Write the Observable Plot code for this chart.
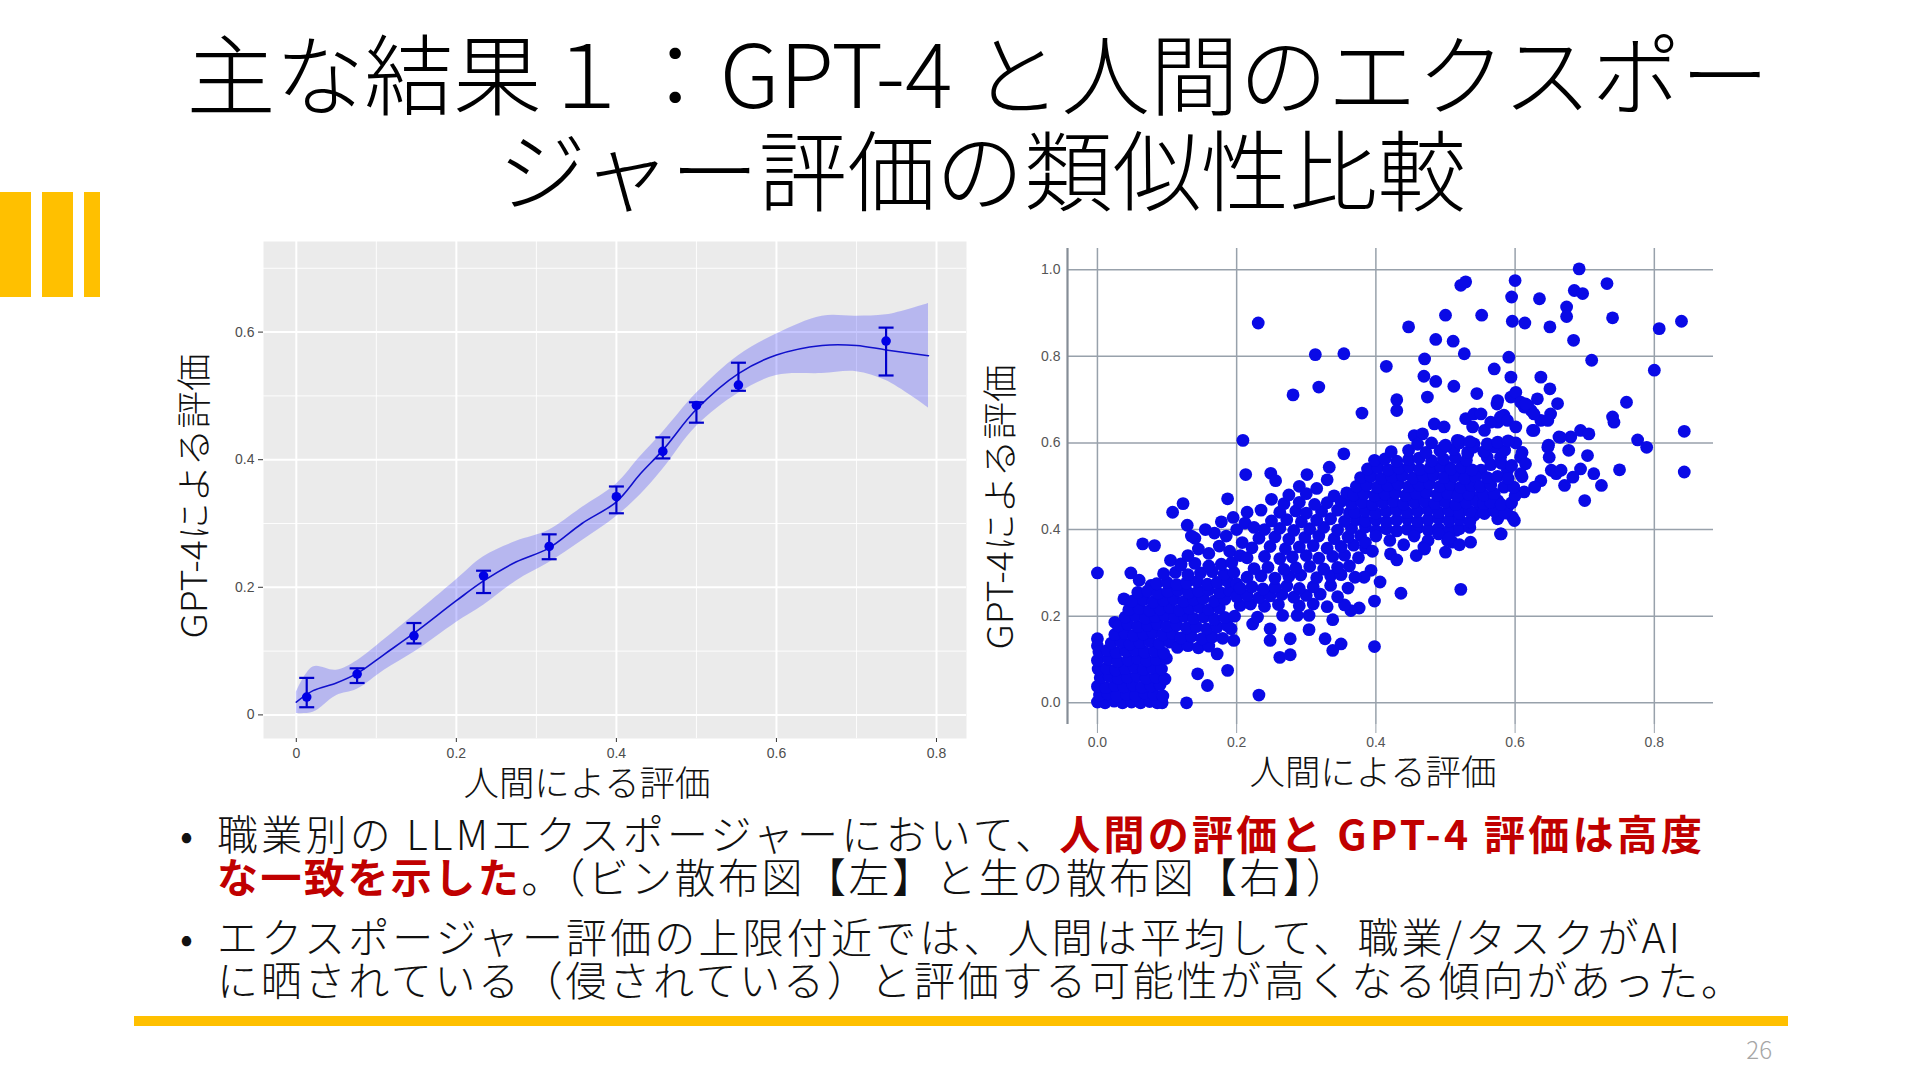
<!DOCTYPE html>
<html lang="ja">
<head>
<meta charset="utf-8">
<script src="https://cdn.jsdelivr.net/npm/d3@7"></script>
<script src="https://cdn.jsdelivr.net/npm/@observablehq/plot@0.6"></script>
<style>
  html, body { margin: 0; padding: 0; background: #fff; }
  #page { position: relative; width: 1920px; height: 1080px; overflow: hidden; background: #fff; }
  #slide { position: absolute; left: 0; top: 0; }
  .chart { position: absolute; }
  #left { left: 150px; top: 230px; }
  #right { left: 1000px; top: 236px; }
</style>
</head>
<body>
<div id="page">
  <div id="slide"></div>
  <div id="left" class="chart"></div>
  <div id="right" class="chart"></div>
</div>
<script>
// ---------------- data ----------------
const titleLines = ["主な結果１：GPT-4 と人間のエクスポー", "ジャー評価の類似性比較"];
const bullet1 = [
  [{t: "職業別の LLMエクスポージャーにおいて、", red: false}, {t: "人間の評価と GPT-4 評価は高度", red: true}],
  [{t: "な一致を示した", red: true}, {t: "。（ビン散布図【左】と生の散布図【右】）", red: false}]
];
const bullet2 = [
  [{t: "エクスポージャー評価の上限付近では、人間は平均して、職業/タスクがAI", red: false}],
  [{t: "に晒されている（侵されている）と評価する可能性が高くなる傾向があった。", red: false}]
];
const pageNumber = "26";
const xLabel = "人間による評価";
const yLabel = "GPT-4による評価";

// left chart: binned scatter with smooth fit
const leftXTicks = [0, 0.2, 0.4, 0.6, 0.8];
const leftXMinor = [0.1, 0.3, 0.5, 0.7];
const leftYTicks = [0, 0.2, 0.4, 0.6];
const leftYMinor = [0.1, 0.3, 0.5, 0.7];
const binX    = [0.013, 0.076, 0.147, 0.234, 0.316, 0.400, 0.458, 0.500, 0.5525, 0.737];
const binMean = [0.028, 0.064, 0.124, 0.218, 0.264, 0.342, 0.413, 0.485, 0.517, 0.586];
const binLo   = [0.012, 0.050, 0.112, 0.191, 0.244, 0.316, 0.402, 0.458, 0.508, 0.532];
const binHi   = [0.058, 0.073, 0.144, 0.226, 0.283, 0.358, 0.435, 0.490, 0.552, 0.607];
const fitX     = [0.000, 0.021, 0.050, 0.076, 0.110, 0.147, 0.200, 0.234, 0.275, 0.315, 0.357, 0.400, 0.430, 0.458, 0.500, 0.5525, 0.600, 0.657, 0.700, 0.737, 0.790];
const fitY     = [0.020, 0.038, 0.050, 0.065, 0.095, 0.128, 0.179, 0.210, 0.240, 0.261, 0.300, 0.334, 0.378, 0.415, 0.479, 0.535, 0.564, 0.579, 0.579, 0.572, 0.563];
const fitUpper = [0.035, 0.075, 0.070, 0.085, 0.118, 0.156, 0.212, 0.248, 0.272, 0.289, 0.325, 0.362, 0.405, 0.443, 0.504, 0.563, 0.597, 0.625, 0.625, 0.627, 0.645];
const fitLower = [0.002, 0.004, 0.030, 0.040, 0.070, 0.098, 0.145, 0.172, 0.210, 0.238, 0.273, 0.311, 0.345, 0.385, 0.452, 0.504, 0.532, 0.535, 0.538, 0.524, 0.481];

// right chart: raw scatter [human, gpt4]
const rightXTicks = [0, 0.2, 0.4, 0.6, 0.8];
const rightYTicks = [0, 0.2, 0.4, 0.6, 0.8, 1.0];
const rawPoints = [
[0.000,0.300],[0.231,0.877],[0.209,0.606],[0.213,0.527],[0.313,0.804],[0.354,0.806],[0.318,0.729],[0.281,0.711],[0.380,0.669],[0.415,0.777],[0.430,0.700],[0.430,0.675],[0.447,0.868],[0.470,0.794],[0.469,0.754],[0.486,0.742],[0.474,0.706],[0.486,0.839],[0.500,0.895],[0.511,0.835],[0.512,0.731],[0.527,0.806],[0.522,0.964],[0.529,0.972],[0.552,0.895],[0.545,0.714],[0.570,0.771],[0.484,0.644],[0.498,0.637],[0.455,0.617],[0.467,0.621],[0.529,0.656],[0.541,0.667],[0.556,0.629],[0.575,0.648],[0.584,0.664],[0.575,0.698],[0.522,0.262],[0.436,0.253],[0.398,0.130],[0.232,0.018],[0.398,0.235],[0.406,0.279],[0.393,0.306],[0.383,0.290],[0.421,0.344],[0.458,0.340],[0.469,0.360],[0.500,0.348],[0.510,0.371],[0.536,0.371],[0.579,0.390],[0.575,0.425],[0.548,0.444],[0.558,0.448],[0.354,0.575],[0.333,0.544],[0.301,0.527],[0.249,0.530],[0.256,0.513],[0.187,0.471],[0.123,0.460],[0.108,0.440],[0.129,0.410],[0.065,0.367],[0.082,0.363],[0.105,0.329],[0.120,0.321],[0.048,0.300],[0.060,0.283],[0.077,0.271],[0.038,0.240],[0.025,0.186],[0.000,0.148],[0.000,0.132],[0.187,0.075],[0.158,0.040],[0.144,0.067],[0.128,0.000],[0.093,0.000],[0.172,0.113],[0.262,0.105],[0.277,0.111],[0.277,0.148],[0.248,0.144],[0.248,0.171],[0.196,0.144],[0.192,0.171],[0.223,0.182],[0.230,0.198],[0.304,0.169],[0.327,0.148],[0.338,0.121],[0.350,0.136],[0.338,0.192],[0.266,0.202],[0.287,0.202],[0.304,0.202],[0.376,0.219],[0.364,0.213],
[0.692,1.002],[0.732,0.968],[0.685,0.952],[0.697,0.945],[0.635,0.933],[0.600,0.975],[0.595,0.937],[0.596,0.881],[0.614,0.877],[0.650,0.868],[0.674,0.914],[0.674,0.892],[0.740,0.889],[0.807,0.864],[0.839,0.881],[0.684,0.837],[0.591,0.798],[0.710,0.791],[0.800,0.768],[0.594,0.752],[0.637,0.752],[0.650,0.725],[0.594,0.706],[0.601,0.717],[0.632,0.702],[0.760,0.694],[0.613,0.683],[0.623,0.675],[0.637,0.652],[0.651,0.667],[0.661,0.691],[0.740,0.660],[0.742,0.648],[0.843,0.627],[0.776,0.607],[0.789,0.590],[0.843,0.533],[0.750,0.538],[0.704,0.571],[0.713,0.529],[0.724,0.502],[0.700,0.467],[0.663,0.614],[0.680,0.614],[0.694,0.629],[0.706,0.621],[0.648,0.595],[0.649,0.567],[0.677,0.583],[0.694,0.540],[0.683,0.521],[0.671,0.502],[0.652,0.537],[0.637,0.513],[0.628,0.498],[0.613,0.487],[0.659,0.529],[0.666,0.537],[0.580,0.390],[0.599,0.421],
[0.565,0.648],[0.579,0.660],[0.589,0.652],[0.601,0.637],[0.539,0.637],[0.551,0.667],[0.608,0.694],[0.618,0.687],[0.627,0.667],[0.625,0.629],[0.601,0.600],[0.608,0.567],[0.615,0.552],[0.608,0.529],[0.589,0.537],[0.579,0.567],[0.570,0.591],[0.560,0.567],[0.551,0.537],[0.584,0.498],[0.575,0.467],[0.589,0.452],[0.596,0.429],[0.556,0.437],[0.541,0.433],[0.522,0.452],[0.508,0.429],[0.515,0.398],[0.503,0.375],[0.532,0.575],[0.522,0.529],[0.536,0.498],[0.546,0.475],[0.513,0.483],[0.503,0.544],[0.498,0.591],[0.517,0.606],[0.541,0.598],[0.574,0.690],[0.615,0.690],[0.647,0.652],[0.627,0.629],[0.665,0.613],[0.647,0.590],
[0.000,0.002],[0.011,0.000],[0.024,0.004],[0.036,0.000],[0.049,0.002],[0.062,0.000],[0.075,0.003],[0.086,0.000],
[0.003,0.018],[0.015,0.021],[0.028,0.016],[0.042,0.020],[0.055,0.017],[0.068,0.022],[0.081,0.019],[0.094,0.016],
[0.000,0.038],[0.012,0.035],[0.025,0.040],[0.038,0.037],[0.051,0.041],[0.064,0.036],[0.077,0.039],[0.090,0.042],
[0.004,0.058],[0.017,0.061],[0.030,0.056],[0.043,0.059],[0.057,0.062],[0.070,0.057],[0.084,0.060],[0.097,0.055],
[0.001,0.078],[0.013,0.080],[0.026,0.076],[0.040,0.079],[0.053,0.082],[0.066,0.077],[0.079,0.081],[0.092,0.078],
[0.000,0.098],[0.016,0.101],[0.029,0.096],[0.044,0.099],[0.058,0.102],[0.071,0.097],[0.085,0.100],[0.099,0.103],
[0.002,0.118],[0.014,0.121],[0.027,0.116],[0.041,0.119],[0.054,0.122],[0.068,0.117],[0.082,0.120],[0.095,0.115],
[0.020,0.138],[0.034,0.141],[0.047,0.136],[0.061,0.139],[0.075,0.142],[0.089,0.137],[0.104,0.140],
[0.025,0.158],[0.039,0.161],[0.052,0.156],[0.066,0.159],[0.080,0.162],[0.094,0.157],[0.108,0.160],
[0.030,0.178],[0.044,0.181],[0.058,0.176],[0.072,0.179],[0.086,0.182],[0.100,0.177],[0.114,0.180],
[0.040,0.198],[0.055,0.201],[0.069,0.196],[0.083,0.199],[0.097,0.202],[0.111,0.197],[0.125,0.200],
[0.115,0.128],[0.130,0.132],[0.145,0.127],[0.160,0.131],
[0.120,0.150],[0.135,0.153],[0.150,0.148],[0.165,0.152],[0.180,0.149],
[0.128,0.173],[0.142,0.176],[0.157,0.171],[0.172,0.175],[0.187,0.178],
[0.138,0.195],[0.153,0.198],[0.168,0.193],[0.183,0.197],[0.197,0.200],
[0.045,0.215],[0.060,0.218],[0.075,0.213],[0.090,0.217],[0.104,0.220],[0.118,0.214],[0.132,0.218],[0.146,0.221],[0.160,0.215],[0.175,0.219],
[0.050,0.235],[0.066,0.238],[0.080,0.233],[0.095,0.237],[0.110,0.240],[0.124,0.234],[0.138,0.238],[0.152,0.241],[0.168,0.235],[0.183,0.239],
[0.058,0.255],[0.072,0.258],[0.087,0.253],[0.101,0.257],[0.116,0.260],[0.131,0.254],[0.145,0.258],[0.160,0.261],[0.176,0.255],[0.190,0.259],
[0.085,0.275],[0.100,0.278],[0.114,0.273],[0.128,0.277],[0.143,0.280],[0.158,0.274],[0.172,0.278],[0.187,0.281],[0.200,0.275],
[0.095,0.298],[0.112,0.301],[0.130,0.296],[0.148,0.300],[0.165,0.303],[0.182,0.297],[0.196,0.301],
[0.120,0.318],[0.140,0.322],[0.160,0.316],[0.178,0.320],[0.193,0.324],
[0.130,0.340],[0.145,0.355],[0.160,0.345],[0.175,0.362],[0.190,0.350],[0.205,0.340],[0.140,0.380],[0.168,0.392],[0.185,0.385],[0.200,0.400],[0.212,0.415],[0.178,0.418],[0.195,0.428],[0.155,0.400],[0.208,0.370],[0.135,0.385],
[0.225,0.405],[0.235,0.445],[0.215,0.440],[0.250,0.470],[0.290,0.500],[0.315,0.495],[0.330,0.515],
[0.205,0.225],[0.220,0.228],[0.240,0.223],[0.260,0.227],[0.290,0.224],[0.310,0.228],[0.330,0.222],[0.355,0.226],
[0.200,0.245],[0.215,0.248],[0.232,0.243],[0.248,0.247],[0.265,0.250],[0.282,0.244],[0.300,0.248],[0.320,0.251],[0.345,0.245],
[0.205,0.265],[0.222,0.268],[0.238,0.263],[0.255,0.267],[0.272,0.270],[0.290,0.264],[0.310,0.268],[0.335,0.271],[0.360,0.265],
[0.215,0.290],[0.235,0.293],[0.255,0.288],[0.275,0.292],[0.292,0.295],[0.315,0.289],[0.335,0.293],[0.350,0.296],[0.370,0.290],
[0.225,0.310],[0.245,0.313],[0.268,0.308],[0.285,0.312],[0.305,0.315],[0.325,0.309],[0.345,0.313],[0.362,0.316],
[0.215,0.335],[0.240,0.338],[0.262,0.333],[0.280,0.337],[0.300,0.340],[0.318,0.334],[0.338,0.338],[0.355,0.341],[0.375,0.335],
[0.222,0.358],[0.248,0.361],[0.270,0.356],[0.290,0.360],[0.310,0.363],[0.330,0.357],[0.350,0.361],[0.368,0.364],[0.385,0.358],
[0.232,0.380],[0.255,0.383],[0.275,0.378],[0.298,0.382],[0.318,0.385],[0.340,0.379],[0.360,0.383],[0.378,0.386],
[0.240,0.400],[0.262,0.403],[0.282,0.398],[0.305,0.402],[0.325,0.405],[0.345,0.399],[0.365,0.403],[0.385,0.406],
[0.250,0.420],[0.272,0.423],[0.293,0.418],[0.315,0.422],[0.335,0.425],[0.355,0.419],[0.372,0.423],
[0.262,0.440],[0.285,0.443],[0.300,0.438],[0.322,0.442],[0.345,0.445],[0.362,0.439],
[0.268,0.460],[0.290,0.463],[0.312,0.458],[0.330,0.462],[0.350,0.465],
[0.275,0.480],[0.300,0.483],[0.340,0.478],[0.358,0.485],
[0.400,0.398],[0.415,0.402],[0.430,0.397],[0.445,0.401],[0.460,0.404],[0.475,0.399],[0.490,0.403],[0.505,0.398],[0.520,0.402],[0.535,0.405],
[0.385,0.420],[0.400,0.423],[0.415,0.418],[0.430,0.422],[0.445,0.425],[0.460,0.419],[0.475,0.423],[0.490,0.426],[0.505,0.420],[0.520,0.424],[0.535,0.418],
[0.370,0.440],[0.385,0.443],[0.400,0.438],[0.415,0.442],[0.430,0.445],[0.445,0.439],[0.460,0.443],[0.475,0.446],[0.490,0.440],[0.505,0.444],[0.520,0.438],[0.535,0.442],
[0.365,0.460],[0.380,0.463],[0.395,0.458],[0.410,0.462],[0.425,0.465],[0.440,0.459],[0.455,0.463],[0.470,0.466],[0.485,0.460],[0.500,0.464],[0.515,0.458],[0.530,0.462],[0.545,0.465],
[0.368,0.480],[0.383,0.483],[0.398,0.478],[0.413,0.482],[0.428,0.485],[0.443,0.479],[0.458,0.483],[0.473,0.486],[0.488,0.480],[0.503,0.484],[0.518,0.478],[0.533,0.482],
[0.372,0.500],[0.387,0.503],[0.402,0.498],[0.417,0.502],[0.432,0.505],[0.447,0.499],[0.462,0.503],[0.477,0.506],[0.492,0.500],[0.507,0.504],[0.522,0.498],[0.537,0.502],
[0.378,0.520],[0.393,0.523],[0.408,0.518],[0.423,0.522],[0.438,0.525],[0.453,0.519],[0.468,0.523],[0.483,0.526],[0.498,0.520],[0.513,0.524],[0.528,0.518],[0.543,0.522],
[0.388,0.540],[0.403,0.543],[0.418,0.538],[0.433,0.542],[0.448,0.545],[0.463,0.539],[0.478,0.543],[0.493,0.546],[0.508,0.540],[0.523,0.544],[0.538,0.538],
[0.398,0.560],[0.413,0.563],[0.430,0.558],[0.447,0.562],[0.462,0.565],[0.480,0.559],[0.497,0.563],[0.514,0.566],[0.530,0.560],
[0.422,0.580],[0.447,0.583],[0.472,0.578],[0.492,0.582],[0.512,0.585],[0.532,0.579],
[0.460,0.597],[0.480,0.600],[0.500,0.595],[0.520,0.605],[0.540,0.590],
[0.385,0.370],[0.400,0.385],[0.420,0.375],[0.440,0.365],[0.455,0.385],[0.475,0.375],[0.490,0.390],[0.505,0.380],[0.520,0.365],[0.395,0.350],[0.430,0.330],[0.470,0.355],
[0.555,0.440],[0.570,0.443],[0.585,0.438],
[0.555,0.460],[0.565,0.463],[0.580,0.458],[0.595,0.462],
[0.555,0.480],[0.570,0.483],[0.600,0.478],
[0.550,0.500],[0.565,0.503],[0.598,0.498],
[0.560,0.520],[0.575,0.523],[0.590,0.518],[0.610,0.522],
[0.565,0.550],[0.580,0.553],[0.595,0.548],
[0.555,0.580],[0.585,0.583],[0.610,0.578],
[0.520,0.600],[0.535,0.603],[0.560,0.598],[0.575,0.602],[0.590,0.605]
];

// ---------------- derived tables ----------------
const bins = binX.map((x, i) => ({x, mean: binMean[i], lo: binLo[i], hi: binHi[i]}));
const fit = fitX.map((x, i) => ({x, y: fitY[i], upper: fitUpper[i], lower: fitLower[i]}));
const scatter = rawPoints.map(([h, g]) => ({human: h, gpt: g}));

// ---------------- slide decoration ----------------
const jpFont = "'Noto Sans CJK JP Light', 'Noto Sans CJK JP DemiLight', 'Noto Sans CJK JP', 'Noto Sans', sans-serif";
const jpBold = "'Noto Sans CJK JP', 'Noto Sans', sans-serif";
const svg = d3.select("#slide").append("svg")
  .attr("width", 1920).attr("height", 1080)
  .attr("font-family", jpFont);

const accent = "#ffc000";
[[0, 31], [42, 73], [84, 100]].forEach(([a, b]) =>
  svg.append("rect").attr("x", a).attr("y", 192).attr("width", b - a).attr("height", 105).attr("fill", accent));
svg.append("rect").attr("x", 134).attr("y", 1016).attr("width", 1654).attr("height", 10).attr("fill", accent);

svg.append("text").attr("x", 978).attr("y", 108).attr("text-anchor", "middle")
  .attr("font-size", 88).attr("font-weight", 300).attr("fill", "#000")
  .attr("textLength", 1583).attr("lengthAdjust", "spacingAndGlyphs").text(titleLines[0]);
svg.append("text").attr("x", 982).attr("y", 204).attr("text-anchor", "middle")
  .attr("font-size", 88).attr("font-weight", 300).attr("fill", "#000")
  .attr("textLength", 968).attr("lengthAdjust", "spacingAndGlyphs").text(titleLines[1]);

function bodyLine(parts, y, len) {
  const t = svg.append("text").attr("x", 217).attr("y", y).attr("font-size", 41)
    .attr("font-weight", 300).attr("fill", "#111").attr("textLength", len).attr("lengthAdjust", "spacing");
  parts.forEach(p => t.append("tspan").text(p.t)
    .attr("fill", p.red ? "#c00000" : "#111")
    .attr("font-family", p.red ? jpBold : jpFont)
    .attr("font-weight", p.red ? 700 : 300));
}
svg.append("text").attr("x", 180).attr("y", 850).attr("font-size", 41).attr("fill", "#111").text("•");
svg.append("text").attr("x", 180).attr("y", 953).attr("font-size", 41).attr("fill", "#111").text("•");
bodyLine(bullet1[0], 850, 1485);
bodyLine(bullet1[1], 893, 1130);
bodyLine(bullet2[0], 953, 1463);
bodyLine(bullet2[1], 996, 1525);

svg.append("text").attr("x", 1772).attr("y", 1059).attr("text-anchor", "end")
  .attr("font-size", 24).attr("font-weight", 300).attr("fill", "#a6a6a6").text(pageNumber);

// axis titles
function yTitle(cx, cy) {
  svg.append("text").attr("transform", `translate(${cx},${cy}) rotate(-90)`)
    .attr("text-anchor", "middle").attr("font-size", 35).attr("font-weight", 300).attr("fill", "#111")
    .attr("textLength", 285).attr("lengthAdjust", "spacingAndGlyphs").text(yLabel);
}
function xTitle(cx, by) {
  svg.append("text").attr("x", cx).attr("y", by).attr("text-anchor", "middle")
    .attr("font-size", 35).attr("font-weight", 300).attr("fill", "#111")
    .attr("textLength", 247).attr("lengthAdjust", "spacingAndGlyphs").text(xLabel);
}
yTitle(207, 496);
yTitle(1013, 507);
xTitle(587, 796);
xTitle(1373, 785);

// ---------------- left chart ----------------
const capSymbol = {
  draw(context, size) {
    const w = Math.sqrt(size / Math.PI);
    context.moveTo(-w, 0);
    context.lineTo(w, 0);
  }
};
const fmtLeft = d => d === 0 ? "0" : d.toFixed(1);
const tickFont = "'Liberation Sans', Arial, sans-serif";

const left = Plot.plot({
  width: 840, height: 560,
  marginLeft: 113, marginRight: 24, marginTop: 11, marginBottom: 52,
  x: {domain: [-0.041, 0.8375]},
  y: {domain: [-0.037, 0.742]},
  style: {background: "transparent", fontFamily: tickFont, fontSize: "14px", color: "#4d4d4d", overflow: "visible"},
  marks: [
    Plot.frame({fill: "#ebebeb", stroke: "none"}),
    Plot.ruleX(leftXMinor, {stroke: "#ffffff", strokeWidth: 0.9}),
    Plot.ruleY(leftYMinor, {stroke: "#ffffff", strokeWidth: 0.9}),
    Plot.ruleX(leftXTicks, {stroke: "#ffffff", strokeWidth: 2}),
    Plot.ruleY(leftYTicks, {stroke: "#ffffff", strokeWidth: 2}),
    Plot.axisX({ticks: leftXTicks, tickFormat: fmtLeft, tickSize: 4, tickPadding: 6, stroke: "#333", label: null, fontSize: 14}),
    Plot.axisY({ticks: leftYTicks, tickFormat: fmtLeft, tickSize: 5, tickPadding: 4, stroke: "#333", label: null, fontSize: 14}),
    Plot.areaY(fit, {x: "x", y1: "lower", y2: "upper", fill: "#0000ff", fillOpacity: 0.22, curve: "catmull-rom"}),
    Plot.line(fit, {x: "x", y: "y", stroke: "#1010cc", strokeWidth: 1.6, curve: "catmull-rom"}),
    Plot.ruleX(bins, {x: "x", y1: "lo", y2: "hi", stroke: "#0000cc", strokeWidth: 2.2}),
    Plot.dot(bins, {x: "x", y: "lo", symbol: capSymbol, r: 7.5, fill: "none", stroke: "#0000cc", strokeWidth: 2.2}),
    Plot.dot(bins, {x: "x", y: "hi", symbol: capSymbol, r: 7.5, fill: "none", stroke: "#0000cc", strokeWidth: 2.2}),
    Plot.dot(bins, {x: "x", y: "mean", r: 4.8, fill: "#0000e6", stroke: "none"})
  ]
});
document.getElementById("left").appendChild(left);

// ---------------- right chart ----------------
const rightXDomain = [-0.043, 0.885];
const gridColor = "#98a1ab";
const right = Plot.plot({
  width: 740, height: 540,
  marginLeft: 67, marginRight: 27, marginTop: 12, marginBottom: 52,
  x: {domain: rightXDomain},
  y: {domain: [-0.05, 1.049]},
  style: {background: "transparent", fontFamily: tickFont, fontSize: "14px", color: "#555", overflow: "visible"},
  marks: [
    Plot.ruleY(rightYTicks, {stroke: gridColor, strokeWidth: 1.5}),
    Plot.ruleX(rightXTicks, {stroke: gridColor, strokeWidth: 1.5}),
    Plot.ruleX([rightXDomain[0]], {stroke: "#858d96", strokeWidth: 2.2}),
    Plot.axisX({ticks: rightXTicks, tickFormat: d => d.toFixed(1), tickSize: 9, tickPadding: 4, stroke: gridColor, label: null, fontSize: 14}),
    Plot.axisY({ticks: rightYTicks, tickFormat: d => d.toFixed(1), tickSize: 0, tickPadding: 7, label: null, fontSize: 14}),
    Plot.dot(scatter, {x: "human", y: "gpt", r: 6.4, fill: "#0a0ae6", stroke: "none"})
  ]
});
document.getElementById("right").appendChild(right);
</script>
</body>
</html>
